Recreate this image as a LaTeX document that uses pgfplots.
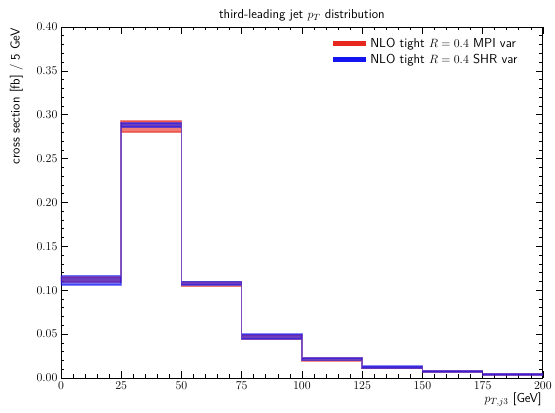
\documentclass[border=0pt]{standalone}
\usepackage{pgfplots}
\pgfplotsset{compat=1.18}
\usepgfplotslibrary{fillbetween}
\usepackage{pgfplotstable}

\definecolor{mpired}{RGB}{230,40,30}
\definecolor{shrblue}{RGB}{20,20,240}

% bin left edge, band low, band high (last row repeats the last bin)
\pgfplotstableread{
x    lo      hi
0    0.1093  0.1150
25   0.2800  0.2930
50   0.1043  0.1090
75   0.0438  0.0489
100  0.0196  0.0224
125  0.0106  0.0130
150  0.0063  0.0080
175  0.0031  0.0047
200  0.0031  0.0047
}\mpivar

\pgfplotstableread{
x    lo      hi
0    0.1057  0.1166
25   0.2857  0.2908
50   0.1060  0.1099
75   0.0446  0.0498
100  0.0200  0.0229
125  0.0110  0.0134
150  0.0066  0.0084
175  0.0033  0.0049
200  0.0033  0.0049
}\shrvar

\begin{document}
\begin{tikzpicture}
\begin{axis}[
    scale only axis,
    width=482pt, height=351pt,
    xmin=0, xmax=200, ymin=0, ymax=0.4,
    xtick={0,25,50,75,100,125,150,175,200},
    ytick={0,0.05,0.1,0.15,0.2,0.25,0.3,0.35,0.4},
    minor x tick num=4, minor y tick num=4,
    major tick length=7pt, minor tick length=3.5pt,
    tick style={black, line width=0.6pt},
    axis line style={line width=0.8pt},
    scaled y ticks=false,
    yticklabel style={/pgf/number format/.cd, fixed, fixed zerofill, precision=2},
    ticklabel style={font=\fontsize{11.5}{13}\selectfont},
    title={\sffamily third-leading jet $p_T$ distribution},
    title style={font=\fontsize{13}{15}\selectfont, yshift=-4pt},
    xlabel={$p_{T,j3}$ \sffamily[GeV]},
    xlabel style={font=\fontsize{13}{15}\selectfont, at={([yshift=-14pt]rel axis cs:1,0)}, anchor=north east, inner sep=1pt},
    ylabel={\sffamily cross section [fb] / 5 GeV},
    ylabel style={font=\fontsize{13}{15}\selectfont, at={([xshift=-37pt]rel axis cs:0,1)}, anchor=south east, inner sep=1pt},
    legend style={draw=none, fill=none, at={(rel axis cs:0.958,0.98)}, anchor=north east,
        font=\fontsize{13}{15}\selectfont, row sep=1pt},
    legend cell align=left,
    legend image code/.code={\draw[#1] (0pt,0pt) -- (33pt,0pt);},
]
% MPI variation band
\addplot[name path=mpilo, draw=none, const plot, forget plot] table[x=x, y=lo]{\mpivar};
\addplot[name path=mpihi, draw=none, const plot, forget plot] table[x=x, y=hi]{\mpivar};
\addplot[fill=mpired, fill opacity=0.6, draw=mpired, draw opacity=0.5, line width=1.6pt, line join=miter, forget plot]
    fill between[of=mpihi and mpilo];

% SHR variation band
\addplot[name path=shrlo, draw=none, const plot, forget plot] table[x=x, y=lo]{\shrvar};
\addplot[name path=shrhi, draw=none, const plot, forget plot] table[x=x, y=hi]{\shrvar};
\addplot[fill=shrblue, fill opacity=0.6, draw=shrblue, draw opacity=0.5, line width=1.6pt, line join=miter, forget plot]
    fill between[of=shrhi and shrlo];

\addlegendimage{mpired, line width=5pt}
\addlegendentry{\sffamily NLO tight $R=0.4$ MPI var}
\addlegendimage{shrblue, line width=5pt}
\addlegendentry{\sffamily NLO tight $R=0.4$ SHR var}
\end{axis}
\path ([shift={(-61pt,-35pt)}]current axis.south west) rectangle ([shift={(494pt,378pt)}]current axis.south west);
\end{tikzpicture}
\end{document}
